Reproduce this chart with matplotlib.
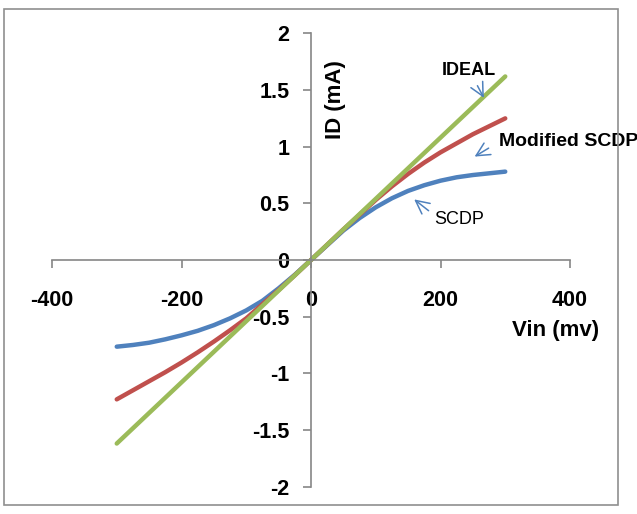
import matplotlib
matplotlib.use('Agg')
import matplotlib.pyplot as plt
from matplotlib.patches import Rectangle

plt.rcParams['font.family'] = ['Liberation Sans', 'DejaVu Sans']
plt.rcParams['axes.unicode_minus'] = False

# Vin (mV) and ID (mA)
vin = [-300, -275, -250, -225, -200, -175, -150, -125, -100, -75, -50, -25, 0,
       25, 50, 75, 100, 125, 150, 175, 200, 225, 250, 275, 300]
id_scdp = [-0.765, -0.75, -0.73, -0.70, -0.665, -0.625, -0.575, -0.515, -0.445, -0.36, -0.25, -0.13, 0.0,
           0.13, 0.26, 0.37, 0.465, 0.545, 0.61, 0.66, 0.70, 0.73, 0.75, 0.765, 0.78]
id_modified = [-1.23, -1.15, -1.07, -0.99, -0.905, -0.815, -0.72, -0.62, -0.515, -0.39, -0.265, -0.135, 0.0,
               0.135, 0.27, 0.40, 0.53, 0.65, 0.76, 0.86, 0.95, 1.03, 1.11, 1.18, 1.25]
vin_ideal = [-300, 300]
id_ideal = [-1.62, 1.62]

x_ticks = [-400, -200, 0, 200, 400]
y_ticks = [-2, -1.5, -1, -0.5, 0, 0.5, 1, 1.5, 2]
y_ticklabels = ['-2', '-1.5', '-1', '-0.5', '0', '0.5', '1', '1.5', '2']

W, H = 637, 514
fig = plt.figure(figsize=(W / 100, H / 100), dpi=100)
ax = fig.add_axes([52 / W, 1 - 486.6 / H, (570 - 52) / W, (486.6 - 33.4) / H])

blue, red, green = '#4F81BD', '#C0504D', '#9BBB59'
ax.plot(vin, id_scdp, color=blue, lw=3.2, solid_capstyle='round', solid_joinstyle='round')
ax.plot(vin, id_modified, color=red, lw=3.2, solid_capstyle='round', solid_joinstyle='round')
ax.plot(vin_ideal, id_ideal, color=green, lw=3.2, solid_capstyle='round')

ax.set_xlim(-400, 400)
ax.set_ylim(-2, 2)
for s in ('top', 'right'):
    ax.spines[s].set_visible(False)
ax.spines['left'].set_position(('data', 0))
ax.spines['bottom'].set_position(('data', 0))
for s in ('left', 'bottom'):
    ax.spines[s].set_color('#868686')
    ax.spines[s].set_linewidth(1.2)

ax.set_xticks(x_ticks)
ax.set_xticklabels([str(v) for v in x_ticks])
ax.set_yticks(y_ticks)
ax.set_yticklabels(y_ticklabels)
ax.tick_params(axis='both', direction='out', length=5.5, width=1.2, color='#868686',
               labelsize=15.5)
ax.tick_params(axis='x', pad=16)
ax.tick_params(axis='y', pad=10)
for lab in ax.get_xticklabels() + ax.get_yticklabels():
    lab.set_fontweight('bold')

ax.text(38, 1.42, 'ID (mA)', rotation=90, ha='center', va='center',
        fontsize=16, fontweight='bold')
ax.text(378, -0.62, 'Vin (mv)', ha='center', va='center',
        fontsize=16, fontweight='bold')

# annotation arrows, as in the original figure
arrow = dict(arrowstyle='->', color=blue, lw=1.1, mutation_scale=24)
ax.annotate('', xy=(269, 1.41), xytext=(255, 1.56), arrowprops=arrow)
ax.annotate('', xy=(249, 0.90), xytext=(278, 1.00), arrowprops=arrow)
ax.annotate('', xy=(156, 0.55), xytext=(185, 0.42), arrowprops=arrow)
ax.text(244, 1.67, 'IDEAL', ha='center', va='center', fontsize=13, fontweight='bold')
ax.text(290, 1.05, 'Modified SCDP', ha='left', va='center', fontsize=14, fontweight='bold')
ax.text(229, 0.36, 'SCDP', ha='center', va='center', fontsize=13)

fig.patches.append(Rectangle((4 / W, 1 - 505 / H), (618 - 4) / W, (505 - 9) / H,
                             transform=fig.transFigure, fill=False,
                             edgecolor='#8f8f8f', lw=1.2))

fig.savefig('out.png', dpi=100)
